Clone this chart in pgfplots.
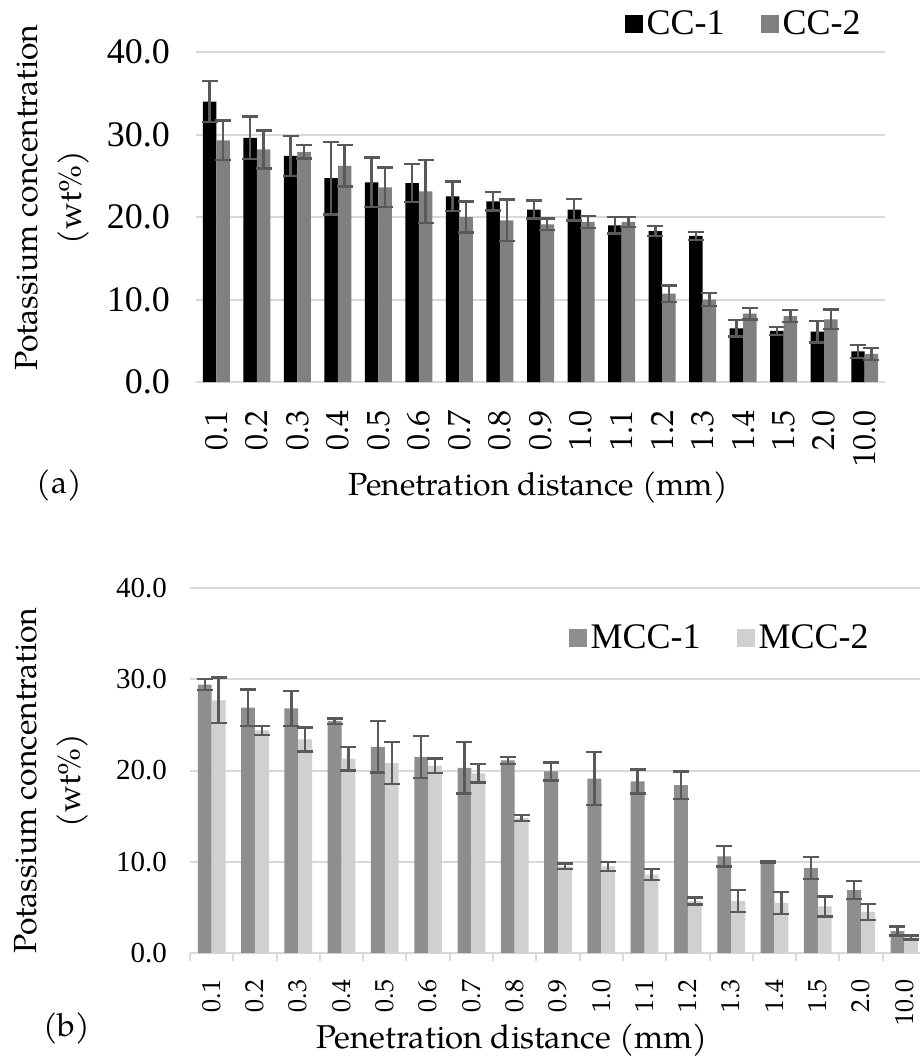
\documentclass[border=0pt]{standalone}
\usepackage{fontspec}
\setmainfont{TeX Gyre Pagella}
\newfontfamily\tnr{Liberation Serif}
\usepackage{pgfplots}
\pgfplotsset{compat=1.18}
\usepackage{pgfplotstable}

\definecolor{gridgray}{HTML}{D9D9D9}
\definecolor{errgray}{HTML}{595959}
\definecolor{ccgray}{HTML}{808080}
\definecolor{mccdark}{HTML}{8E8E8E}
\definecolor{mcclight}{HTML}{D0D0D0}

% panel (a): CC-1 / CC-2, value and error
\pgfplotstableread{
x  cc1  e1   cc2  e2
0  34.0 2.5  29.3 2.4
1  29.6 2.6  28.2 2.3
2  27.4 2.4  27.9 0.8
3  24.7 4.4  26.2 2.5
4  24.2 3.0  23.6 2.4
5  24.1 2.3  23.1 3.8
6  22.5 1.8  20.0 1.9
7  21.9 1.1  19.6 2.5
8  20.9 1.1  19.1 0.7
9  20.9 1.3  19.4 0.7
10 19.0 1.0  19.4 0.6
11 18.3 0.6  10.7 1.0
12 17.7 0.5  10.0 0.8
13 6.5  1.0  8.3  0.7
14 6.2  0.5  8.0  0.7
15 6.1  1.3  7.6  1.2
16 3.7  0.8  3.4  0.7
}\tabA

% panel (b): MCC-1 / MCC-2
\pgfplotstableread{
x  m1   e1   m2   e2
0  29.4 0.6  27.7 2.5
1  26.9 2.0  24.4 0.5
2  26.8 1.9  23.4 1.3
3  25.4 0.3  21.3 1.3
4  22.6 2.8  20.8 2.3
5  21.5 2.3  20.5 0.8
6  20.3 2.8  19.7 1.0
7  21.1 0.4  14.8 0.3
8  19.9 1.0  9.5  0.3
9  19.1 2.9  9.5  0.5
10 18.8 1.3  8.6  0.6
11 18.4 1.5  5.7  0.4
12 10.6 1.1  5.7  1.2
13 10.0 0.1  5.5  1.2
14 9.3  1.2  5.1  1.1
15 6.9  1.0  4.5  0.9
16 2.4  0.5  1.7  0.2
}\tabB

\pgfplotsset{
  kbars/.style={
    ybar=0pt, bar width=0.333,
    scale only axis, anchor=south west,
    xmin=-0.5, xmax=16.5, ymin=0, ymax=40,
    xtick={0,...,16},
    xticklabels={0.1,0.2,0.3,0.4,0.5,0.6,0.7,0.8,0.9,1.0,1.1,1.2,1.3,1.4,1.5,2.0,10.0},
    ytick={0,10,20,30,40},
    yticklabels={0.0,10.0,20.0,30.0,40.0},
    ymajorgrids, grid style={draw=gridgray, line width=1pt},
    xtick style={draw=none}, ytick style={draw=none},
    xticklabel style={rotate=90, anchor=east},
    legend columns=2,
    legend image code/.code={\fill[##1] (0pt,-4.5pt) rectangle (9pt,4.5pt);},
    legend style={draw=none, fill=none, inner sep=0pt,
      font=\tnr\fontsize{18}{18}\selectfont,
      /tikz/every even column/.append style={column sep=16pt}},
  },
  ebar/.style={error bars/.cd, y dir=both, y explicit,
    error bar style={line width=1.2pt, errgray},
    error mark options={rotate=90, mark size=4pt, line width=1.2pt, errgray}},
}

\begin{document}
\begin{tikzpicture}
\path[use as bounding box] (0pt,0pt) rectangle (459.5pt,-531.5pt);

% (a)
\begin{axis}[kbars, at={(98pt,-191pt)}, width=344.5pt, height=165pt,
  axis line style={draw=none},
  xticklabel style={font=\fontsize{16}{16}\selectfont},
  xticklabel shift=6.5pt,
  yticklabel style={font=\tnr\fontsize{18}{18}\selectfont},
  yticklabel shift=9.5pt,
  legend style={at={(0.971,1.085)}, anchor=east}]
\addplot[fill=black, draw=none, ebar] table[x=x, y=cc1, y error=e1] {\tabA};
\addplot[fill=ccgray, draw=none, ebar] table[x=x, y=cc2, y error=e2] {\tabA};
\legend{CC-1, CC-2}
\end{axis}
\node[font=\fontsize{16}{22}\selectfont, align=center, rotate=90] at (26pt,-98.75pt) {Potassium concentration\\(wt\%)};
\node[font=\fontsize{16}{16}\selectfont] at (269pt,-243.5pt) {Penetration distance (mm)};
\node[font=\fontsize{16}{16}\selectfont] at (29.5pt,-242.5pt) {(a)};

% (b)
\begin{axis}[kbars, at={(95pt,-476.5pt)}, width=368pt, height=182.5pt, bar width=0.32,
  axis x line*=bottom, axis y line*=left,
  y axis line style={draw=none},
  x axis line style={draw=gridgray, line width=1pt},
  extra x ticks={-0.5,0.5,...,16.5}, extra x tick labels={},
  extra x tick style={tick align=outside, major tick length=4pt,
    xtick style={draw=gridgray, line width=1pt}},
  xticklabel style={font=\fontsize{13}{13}\selectfont},
  xticklabel shift=5.5pt,
  yticklabel style={font=\tnr\fontsize{14.5}{14.5}\selectfont},
  yticklabel shift=8pt,
  legend style={at={(0.928,0.863)}, anchor=east}]
\addplot[fill=mccdark, draw=none, ebar] table[x=x, y=m1, y error=e1] {\tabB};
\addplot[fill=mcclight, draw=none, ebar] table[x=x, y=m2, y error=e2] {\tabB};
\legend{MCC-1, MCC-2}
\end{axis}
\node[font=\fontsize{16}{22}\selectfont, align=center, rotate=90] at (25.75pt,-390.25pt) {Potassium concentration\\(wt\%)};
\node[font=\fontsize{16.5}{16.5}\selectfont] at (256pt,-520pt) {Penetration distance (mm)};
\node[font=\fontsize{16}{16}\selectfont] at (33.25pt,-514pt) {(b)};
\end{tikzpicture}
\end{document}
